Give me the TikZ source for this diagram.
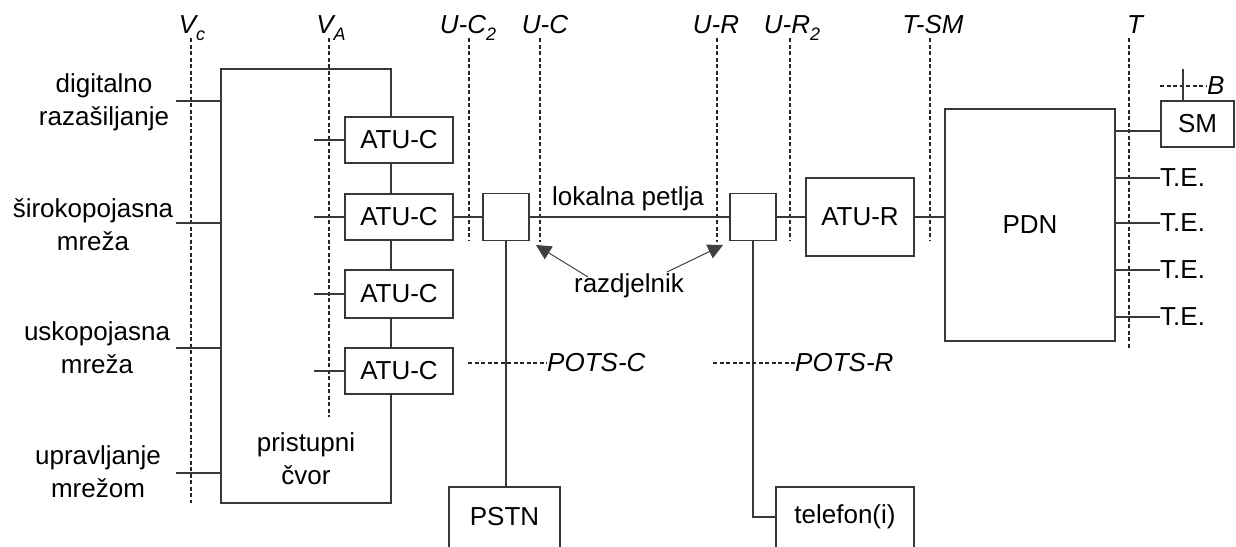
\documentclass[tikz,border=0pt]{standalone}
\usepackage{fontspec}
\setmainfont{Liberation Sans}
\usetikzlibrary{arrows.meta,calc}
\newcommand{\lsub}[1]{\raisebox{-0.3em}{\fontsize{18}{18}\selectfont #1}}
\begin{document}
\begin{tikzpicture}[x=1pt,y=-1pt,
  ln/.style={line width=1.4pt, draw=black!78},
  bx/.style={ln, fill=white, rectangle, inner sep=0pt, font=\fontsize{26}{33}\selectfont},
  txt/.style={inner sep=0pt, align=center, font=\fontsize{26}{33}\selectfont},
  itl/.style={inner sep=0pt, font=\fontsize{26}{30}\selectfont\itshape},
  refl/.style={line width=1.2pt, draw=black!85, dash pattern=on 4pt off 2.5pt},
  arr/.style={line width=1pt, draw=black!75, -{Triangle[length=15pt,width=15pt]}}
]
\useasboundingbox (0,0) rectangle (1236,546);
\clip (0,0) rectangle (1236,546);

% reference point labels and dashed lines
\node[itl, anchor=base] (vc) at (192,33) {V\lsub{c}};
\node[itl, anchor=base] (va) at (331,33) {V\lsub{A}};
\node[itl, anchor=base] (uc2) at (468,33) {U-C\lsub{2}};
\node[itl, anchor=base] (uc) at (545,33) {U-C};
\node[itl, anchor=base] (ur) at (716,33) {U-R};
\node[itl, anchor=base] (ur2) at (792,33) {U-R\lsub{2}};
\node[itl, anchor=base] (tsm) at (933,33) {T-SM};
\node[itl, anchor=base] (tt) at (1135,33) {T};

\coordinate (vc1) at (191,38);  \coordinate (vc2) at (191,503);
\coordinate (va1) at (329,38);  \coordinate (va2) at (329,417);
\coordinate (uc21) at (469,38); \coordinate (uc22) at (469,241);
\coordinate (uc1) at (540,38);  \coordinate (uc2b) at (540,242);
\coordinate (ur1) at (717,38);  \coordinate (ur2b) at (717,242);
\coordinate (ur21) at (790,38); \coordinate (ur22) at (790,241);
\coordinate (tsm1) at (930,38); \coordinate (tsm2) at (930,240);
\coordinate (tt1) at (1129,38); \coordinate (tt2) at (1129,348);
\foreach \a/\b in {vc1/vc2,va1/va2,uc21/uc22,uc1/uc2b,ur1/ur2b,ur21/ur22,tsm1/tsm2,tt1/tt2}
  \draw[refl] (\a) -- (\b);

% access node
\node[ln, rectangle, inner sep=0pt, minimum width=170pt, minimum height=434pt] (an) at (306,286) {};
\node[txt] (antxt) at (306,458.5) {pristupni\\čvor};

% left labels
\node[txt] (ldig) at (104,102) {digitalno\\razašiljanje};
\node[txt] (lsir) at (93,225) {širokopojasna\\mreža};
\node[txt] (lusk) at (97,347.5) {uskopojasna\\mreža};
\node[txt] (lupr) at (98,472) {upravljanje\\mrežom};
\coordinate (l1) at (176,101);
\coordinate (l2) at (176,223);
\coordinate (l3) at (176,348);
\coordinate (l4) at (176,473);
\foreach \c in {l1,l2,l3,l4} \draw[ln] (\c) -- (\c -| an.west);

% ATU-C boxes
\node[bx, minimum width=108pt, minimum height=46pt] (c1) at (399,140) {ATU-C};
\node[bx, minimum width=108pt, minimum height=46pt] (c2) at (399,217) {ATU-C};
\node[bx, minimum width=108pt, minimum height=48pt] (c3) at (399,294) {ATU-C};
\node[bx, minimum width=108pt, minimum height=46pt] (c4) at (399,371) {ATU-C};
\coordinate (s1) at (314,140);
\coordinate (s2) at (314,217);
\coordinate (s3) at (314,294);
\coordinate (s4) at (314,371);
\draw[ln] (s1) -- (c1.west);
\draw[ln] (s2) -- (c2.west);
\draw[ln] (s3) -- (c3.west);
\draw[ln] (s4) -- (c4.west);

% splitters, ATU-R, PDN
\node[bx, minimum width=46pt, minimum height=47pt] (spc) at (506,217) {};
\node[bx, minimum width=46pt, minimum height=47pt] (spr) at (753,217) {};
\node[bx, minimum width=108pt, minimum height=78pt] (atur) at (860,217) {ATU-R};
\node[bx, minimum width=170pt, minimum height=232pt] (pdn) at (1030,225) {PDN};
\node[bx, minimum width=73pt, minimum height=46pt] (sm) at (1197.5,124) {SM};

\draw[ln] (c2.east) -- (spc.west);
\draw[ln] (spc.east) -- (spr.west);
\draw[ln] (spr.east) -- (atur.west);
\draw[ln] (atur.east) -- (atur.east -| pdn.west);

\node[txt] (lok) at (628,199) {lokalna petlja};
\node[txt] (razd) at (629,286) {razdjelnik};
\coordinate (a1s) at (588,277); \coordinate (a1e) at (536,245);
\coordinate (a2s) at (667,272); \coordinate (a2e) at (723,245);
\draw[arr] (a1s) -- (a1e);
\draw[arr] (a2s) -- (a2e);

% PSTN and telefon
\node[bx, minimum width=111pt, minimum height=66pt] (pstn) at (504.5,520) {};
\node[txt] (pstnt) at (504.5,517) {PSTN};
\node[bx, minimum width=138pt, minimum height=66pt] (tel) at (845,520) {};
\node[txt] (telt) at (845,517) {telefon(i)};
\draw[ln] (spc.south) -- (spc.south |- pstn.north);
\draw[ln] (spr.south) |- (telt.west -| tel.west);

% POTS
\node[itl, anchor=west] (potsc) at (547,363) {POTS-C};
\node[itl, anchor=west] (potsr) at (795,363) {POTS-R};
\coordinate (pc) at (468,363);
\coordinate (pr) at (713,363);
\draw[refl] (pc) -- (potsc.west);
\draw[refl] (pr) -- (potsr.west);

% SM and T.E.
\draw[ln] ($(pdn.east |- sm.west)+(0,7)$) -- ($(sm.west)+(0,7)$);
\node[txt, anchor=west] (te1) at (1160,178) {T.E.};
\node[txt, anchor=west] (te2) at (1160,223) {T.E.};
\node[txt, anchor=west] (te3) at (1160,270) {T.E.};
\node[txt, anchor=west] (te4) at (1160,317) {T.E.};
\foreach \t in {te1,te2,te3,te4} \draw[ln] (pdn.east |- \t.west) -- (\t.west);

\node[itl, anchor=west] (bb) at (1207,86) {B};
\coordinate (bd) at (1160,86);
\draw[refl] (bd) -- (bb.west);
\coordinate (bt) at (1183,69);
\draw[ln] (bt) -- (bt |- sm.north);
\end{tikzpicture}
\end{document}
